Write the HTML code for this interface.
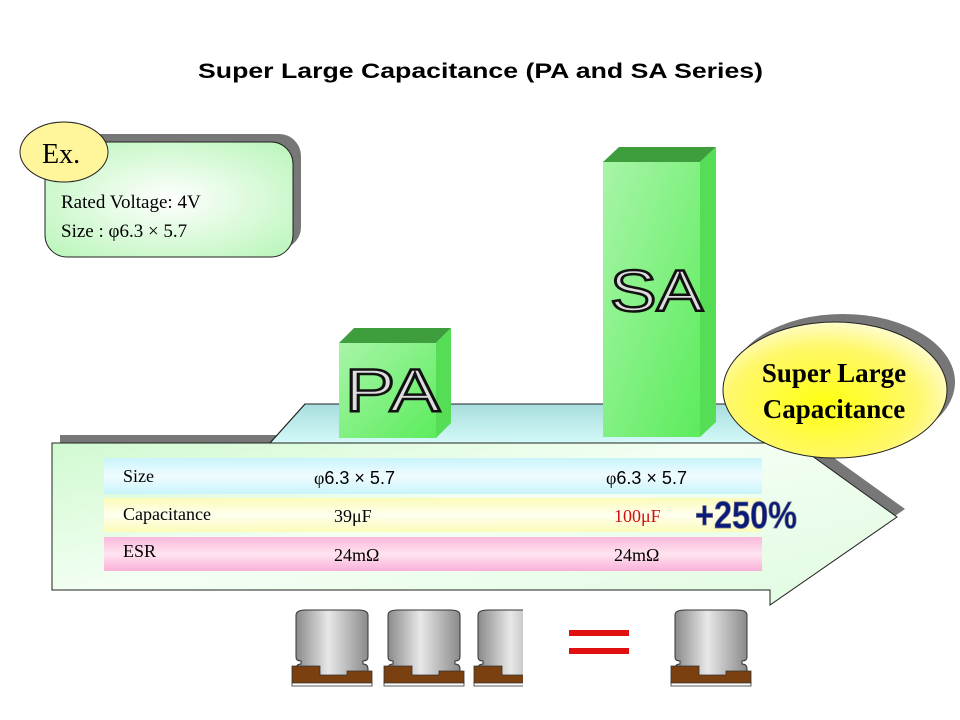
<!DOCTYPE html>
<html><head><meta charset="utf-8"><style>
html,body{margin:0;padding:0;background:#fff;}
svg{display:block;}
</style></head><body>
<svg width="960" height="720" viewBox="0 0 960 720" xmlns="http://www.w3.org/2000/svg" font-family="Liberation Serif, serif">
<defs>
<radialGradient id="exg" cx="0.5" cy="0.5" r="0.7"><stop offset="0" stop-color="#ffffff"/><stop offset="1" stop-color="#b8f5b8"/></radialGradient>
<linearGradient id="arrowg" x1="0" y1="0" x2="1" y2="1"><stop offset="0" stop-color="#c8f8c8"/><stop offset="0.5" stop-color="#f4fff4"/><stop offset="1" stop-color="#e0fae0"/></linearGradient>
<linearGradient id="platg" x1="0" y1="0" x2="0" y2="1"><stop offset="0" stop-color="#a8dede"/><stop offset="1" stop-color="#d8fbfb"/></linearGradient>
<linearGradient id="frontg" x1="0" y1="0" x2="1" y2="1"><stop offset="0" stop-color="#a8f5a8"/><stop offset="1" stop-color="#5cec5c"/></linearGradient>
<radialGradient id="yellg" cx="0.45" cy="0.6" r="0.6"><stop offset="0" stop-color="#ffff10"/><stop offset="0.7" stop-color="#fff86a"/><stop offset="1" stop-color="#fffcc8"/></radialGradient>
<linearGradient id="sizeg" x1="0" y1="0" x2="0" y2="1"><stop offset="0" stop-color="#c8f4fa"/><stop offset="0.5" stop-color="#f0fcff"/><stop offset="1" stop-color="#c8f4fa"/></linearGradient>
<linearGradient id="capg" x1="0" y1="0" x2="0" y2="1"><stop offset="0" stop-color="#fbfbb8"/><stop offset="0.5" stop-color="#fffff0"/><stop offset="1" stop-color="#fbfbb8"/></linearGradient>
<linearGradient id="esrg" x1="0" y1="0" x2="0" y2="1"><stop offset="0" stop-color="#fbb8dc"/><stop offset="0.5" stop-color="#ffe4f0"/><stop offset="1" stop-color="#fab0d8"/></linearGradient>
<linearGradient id="canr" x1="0" y1="0" x2="1" y2="0"><stop offset="0" stop-color="#8a8a8a"/><stop offset="0.45" stop-color="#e8e8e8"/><stop offset="1" stop-color="#8a8a8a"/></linearGradient>
<g id="cap">
<rect x="0" y="73" width="80" height="4" fill="#fff" stroke="#333" stroke-width="0.8"/>
<path d="M4,70 L4,60 Q4,55 9,55 L9,52 Q4,52 4,48 L4,6 Q4,1 14,1 L66,1 Q76,1 76,6 L76,48 Q76,52 71,52 L71,55 Q76,55 76,60 L76,70 Z" fill="url(#canr)" stroke="#333" stroke-width="1"/>
<path d="M0,57 L28,57 L28,66 L55,66 L55,62 L80,62 L80,74 L0,74 Z" fill="#7a4010" stroke="#333" stroke-width="0.8"/>
</g>
<clipPath id="clip3"><rect x="470" y="600" width="53" height="100"/></clipPath>
</defs>

<text x="198" y="78" font-family="Liberation Sans, sans-serif" font-weight="bold" font-size="21" textLength="565" lengthAdjust="spacingAndGlyphs">Super Large Capacitance (PA and SA Series)</text>

<!-- Ex box -->
<rect x="53" y="134" width="248" height="115" rx="22" fill="#777"/>
<rect x="45" y="142" width="248" height="115" rx="22" fill="url(#exg)" stroke="#222" stroke-width="1"/>
<ellipse cx="64" cy="152" rx="44" ry="30" fill="#fff59a" stroke="#222" stroke-width="1"/>
<text x="42" y="163" font-size="28">Ex.</text>
<text x="61" y="208" font-size="19">Rated Voltage:  4V</text>
<text x="61" y="237" font-size="19">Size : φ6.3 × 5.7</text>

<!-- arrow shadow -->
<path d="M60,435 L778,435 L748,396 L905,509 L778,597 L778,582 L60,582 Z" fill="#777"/>
<!-- platform -->
<path d="M270,443 L305,404 L740,404 L800,447 L770,443 Z" fill="url(#platg)" stroke="#222" stroke-width="1"/>
<!-- arrow -->
<path d="M52,443 L770,443 L740,404 L897,517 L770,605 L770,590 L52,590 Z" fill="url(#arrowg)" stroke="#222" stroke-width="1"/>
<path d="M270,443 L305,404 L740,404" fill="none" stroke="#222" stroke-width="1"/>
<line x1="270" y1="443" x2="770" y2="443" stroke="#222"/>

<!-- PA cube -->
<polygon points="339,343 354,328 451,328 436,343" fill="#3e9e3e"/>
<polygon points="436,343 451,328 451,423 436,438" fill="#55dd55"/>
<rect x="339" y="343" width="97" height="95" fill="url(#frontg)"/>
<text x="345" y="411" font-family="Liberation Sans, sans-serif" font-size="60" fill="#ddd" stroke="#111" stroke-width="2.5" textLength="95" lengthAdjust="spacingAndGlyphs">PA</text>
<!-- SA cube -->
<polygon points="603,162 619,147 716,147 700,162" fill="#3e9e3e"/>
<polygon points="700,162 716,147 716,422 700,437" fill="#55dd55"/>
<rect x="603" y="162" width="97" height="275" fill="url(#frontg)"/>
<text x="610" y="311" font-family="Liberation Sans, sans-serif" font-size="58" fill="#ddd" stroke="#111" stroke-width="2.5" textLength="93" lengthAdjust="spacingAndGlyphs">SA</text>

<!-- Super large ellipse -->
<ellipse cx="843" cy="382" rx="112" ry="68" fill="#777"/>
<ellipse cx="835" cy="390" rx="112" ry="68" fill="url(#yellg)" stroke="#222" stroke-width="1"/>
<text x="834" y="382" text-anchor="middle" font-weight="bold" font-size="27">Super Large</text>
<text x="834" y="418" text-anchor="middle" font-weight="bold" font-size="27">Capacitance</text>

<!-- table -->
<rect x="104" y="458" width="658" height="36" fill="url(#sizeg)"/>
<rect x="104" y="498" width="658" height="34" fill="url(#capg)"/>
<rect x="104" y="537" width="658" height="34" fill="url(#esrg)"/>
<g font-size="18">
<text x="123" y="482">Size</text>
<text x="123" y="520">Capacitance</text>
<text x="123" y="557">ESR</text>
<text x="314" y="484">φ<tspan font-family="Liberation Sans, sans-serif">6.3 × 5.7</tspan></text>
<text x="606" y="484">φ<tspan font-family="Liberation Sans, sans-serif">6.3 × 5.7</tspan></text>
<text x="334" y="522">39μF</text>
<text x="614" y="522" fill="#d01010">100μF</text>
<text x="334" y="561">24mΩ</text>
<text x="614" y="561">24mΩ</text>
</g>
<text x="695" y="528" font-family="Liberation Sans, sans-serif" font-weight="bold" font-size="38" fill="#0a1a7a" stroke="#778" stroke-width="0.8" textLength="102" lengthAdjust="spacingAndGlyphs">+250%</text>

<!-- capacitors -->
<use href="#cap" x="292" y="609"/>
<use href="#cap" x="384" y="609"/>
<g clip-path="url(#clip3)"><use href="#cap" x="474" y="609"/></g>
<use href="#cap" x="671" y="609"/>
<rect x="569" y="630" width="60" height="6" fill="#e01010"/>
<rect x="569" y="648" width="60" height="6" fill="#e01010"/>
</svg>
</body></html>
